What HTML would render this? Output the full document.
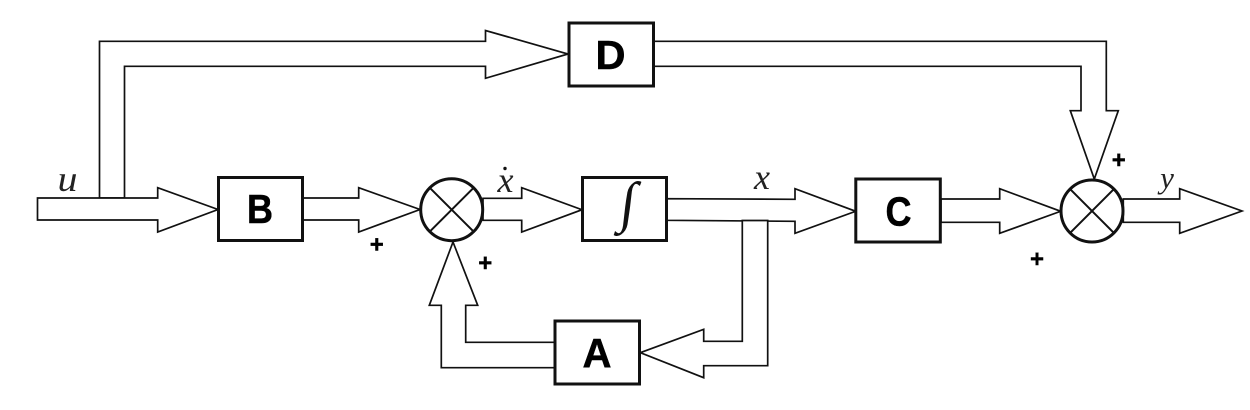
<!DOCTYPE html>
<html>
<head>
<meta charset="utf-8">
<style>
html,body{margin:0;padding:0;background:#fff;width:1250px;height:410px;overflow:hidden}
svg{display:block}
.a{fill:#fff;stroke:#111;stroke-width:1.7;stroke-linejoin:miter}
.b{fill:#fff;stroke:#111;stroke-width:3}
.c{fill:#fff;stroke:#111;stroke-width:3}
.l{fill:none;stroke:#111;stroke-width:1.7}
.t{font-family:"Liberation Sans",sans-serif;font-weight:bold;font-size:41px;fill:#000;stroke:#000;stroke-width:.5;text-anchor:middle}
.p{font-family:"Liberation Sans",sans-serif;font-weight:bold;font-size:24px;fill:#000;stroke:#000;stroke-width:.4;text-anchor:middle}
.m{font-family:"Liberation Serif",serif;font-style:italic;font-size:36px;fill:#222;text-anchor:middle}
</style>
</head>
<body>
<svg width="1250" height="410" viewBox="0 0 1250 410" xmlns="http://www.w3.org/2000/svg">
<rect width="1250" height="410" fill="#fff"/>

<!-- top path u to D -->
<polygon class="a" points="99.5,198 99.5,41.3 485.5,41.3 485.5,30.5 568,54 485.5,78.3 485.5,66.3 124.5,66.3 124.5,198"/>
<!-- D to sum 2 -->
<polygon class="a" points="654,41.3 1106.3,41.3 1106.3,110.7 1118.3,110.7 1094.3,179 1070.3,110.7 1081,110.7 1081,66.3 654,66.3"/>

<!-- u to B -->
<polygon class="a" points="37.5,198 157.7,198 157.7,187.7 218,209.5 157.7,232 157.7,220 37.5,220"/>
<!-- B to sum 1 -->
<polygon class="a" points="303,198 358.7,198 358.7,187.7 420,209.5 358.7,232 358.7,220 303,220"/>
<!-- sum 1 to integrator -->
<polygon class="a" points="483,198.3 521.7,198.3 521.7,187.7 582,209.7 521.7,232 521.7,220.3 483,220.3"/>
<!-- integrator to C -->
<polygon class="a" points="667,198.7 795,199.3 795,188.7 855.7,211.3 795,233.3 795,221.3 667,220.3"/>
<!-- feedback to A -->
<polygon class="a" points="742.3,220.5 767.7,220.5 767.7,365.7 703.7,365.7 703.7,377.7 640.3,352.7 703.7,329.3 703.7,341.3 742.3,341.3"/>
<!-- A to sum 1 -->
<polygon class="a" points="555,342.3 465.7,342.3 465.7,305.3 477.7,305.3 453,242 429.3,305.3 441.3,305.3 441.3,367.7 555,367.7"/>
<!-- C to sum 2 -->
<polygon class="a" points="941,199 999.7,199 999.7,188.7 1060.7,211.3 999.7,233.3 999.7,222.3 941,222.3"/>
<!-- output -->
<polygon class="a" points="1123.3,199 1179.7,199 1179.7,188.7 1242,211 1179.7,233.3 1179.7,222.3 1123.3,222.3"/>

<!-- boxes -->
<rect class="b" x="218.5" y="177.5" width="84" height="63"/>
<rect class="b" x="582.5" y="177.5" width="84" height="63"/>
<rect class="b" x="855.8" y="179" width="84.5" height="63"/>
<rect class="b" x="555" y="321" width="84.5" height="63"/>
<rect class="b" x="569" y="23" width="84.5" height="63"/>

<!-- summing junctions -->
<circle class="c" cx="451.7" cy="209.7" r="31"/>
<line class="l" x1="429.8" y1="187.8" x2="473.6" y2="231.6" style="stroke-width:2"/>
<line class="l" x1="473.6" y1="187.8" x2="429.8" y2="231.6" style="stroke-width:2"/>
<circle class="c" cx="1092" cy="211" r="31"/>
<line class="l" x1="1070.1" y1="189.1" x2="1113.9" y2="232.9" style="stroke-width:2"/>
<line class="l" x1="1113.9" y1="189.1" x2="1070.1" y2="232.9" style="stroke-width:2"/>

<!-- box labels -->
<text class="t" x="260" y="223" textLength="26" lengthAdjust="spacingAndGlyphs">B</text>
<text class="t" x="898.5" y="225.5" textLength="26" lengthAdjust="spacingAndGlyphs">C</text>
<text class="t" x="597" y="367" textLength="29" lengthAdjust="spacingAndGlyphs">A</text>
<text class="t" x="610.5" y="69" textLength="30" lengthAdjust="spacingAndGlyphs">D</text>
<text transform="translate(626,221) skewX(-7)" font-family="Liberation Serif, serif" font-style="italic" font-size="56" fill="#111" text-anchor="middle">∫</text>

<!-- signs -->
<text class="p" x="376.7" y="252.5">+</text>
<text class="p" x="485.3" y="271">+</text>
<text class="p" x="1118.7" y="168">+</text>
<text class="p" x="1037" y="267">+</text>

<!-- math labels -->
<text class="m" x="67.5" y="191" textLength="20" lengthAdjust="spacingAndGlyphs">u</text>
<text class="m" x="505.5" y="192">x</text>
<circle cx="505" cy="168.5" r="1.7" fill="#111"/>
<text class="m" x="762" y="189">x</text>
<text class="m" x="1167" y="188" style="font-size:31px">y</text>
</svg>
</body>
</html>
